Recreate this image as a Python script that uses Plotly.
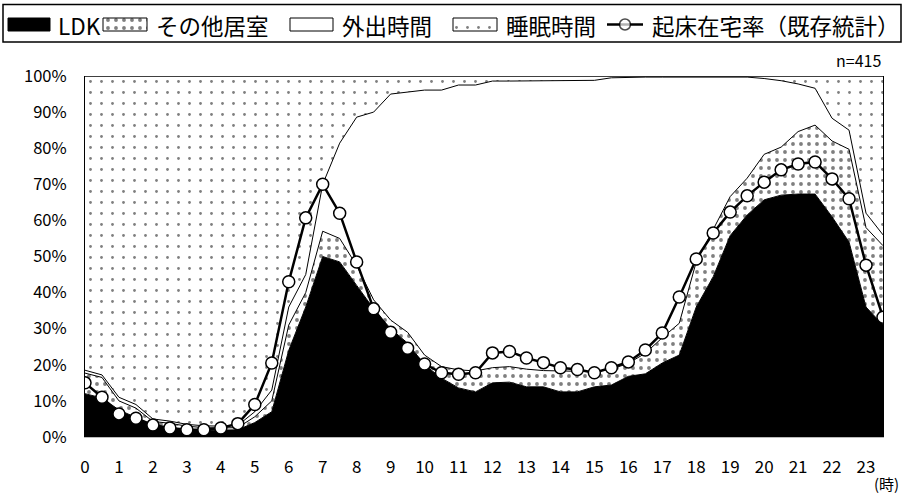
import plotly.graph_objects as go

hours = [0, 0.5, 1, 1.5, 2, 2.5, 3, 3.5, 4, 4.5, 5, 5.5, 6, 6.5, 7, 7.5,
         8, 8.5, 9, 9.5, 10, 10.5, 11, 11.5, 12, 12.5, 13, 13.5, 14, 14.5, 15, 15.5,
         16, 16.5, 17, 17.5, 18, 18.5, 19, 19.5, 20, 20.5, 21, 21.5, 22, 22.5, 23, 23.5]

# shares (%) by half hour
ldk = [12, 10.8, 7.5, 5.3, 3.3, 2.5, 2, 1.8, 1.8, 2, 4, 7, 24, 36, 50, 48.5,
       42, 35.5, 30, 26, 20, 16.3, 13.6, 12.5, 15, 15.2, 13.9, 13.9, 12.5, 12.5, 13.9, 14.4,
       16.8, 17.5, 20.5, 22.7, 36, 44.4, 55.8, 61.5, 65.7, 67, 67.3, 67.3, 61, 54, 36, 31]
other_room = [5.7, 5.7, 2.5, 2.7, 1.0, 1.3, 1.0, 0.8, 0.7, 0.6, 1.6, 3.0, 7.0, 4.0, 7.0, 6.5,
              5.5, 2.5, 2.4, 3.0, 2.7, 3.2, 5.0, 5.8, 4.2, 4.3, 4.9, 4.5, 5.8, 5.6, 4.2, 4.4,
              3.6, 5.7, 7.0, 8.8, 12.5, 13.1, 10.8, 10.2, 12.6, 13.3, 17.3, 19.1, 21.0, 25.7, 22.0, 22.0]
outing = [0.8, 0.7, 1.0, 1.0, 0.7, 0.6, 0.5, 0.5, 0.5, 0.6, 1.4, 3.0, 5.0, 5.0, 13.0, 26.4,
          41.1, 52.0, 62.6, 66.6, 73.4, 76.6, 78.9, 79.2, 79.4, 79.1, 79.8, 80.2, 80.3, 80.5, 80.7, 80.7,
          79.3, 76.5, 72.2, 68.2, 51.2, 42.2, 33.1, 28.0, 21.0, 18.4, 13.2, 10.2, 6.3, 5.3, 4.0, 3.0]
sleep = [81.5, 82.8, 89, 91, 95, 95.6, 96.5, 96.9, 97, 96.8, 93, 87, 64, 55, 30, 18.6,
         11.4, 10, 5, 4.4, 3.9, 3.9, 2.5, 2.5, 1.4, 1.4, 1.4, 1.4, 1.4, 1.4, 1.2, 0.5,
         0.3, 0.3, 0.3, 0.3, 0.3, 0.3, 0.3, 0.3, 0.7, 1.3, 2.2, 3.4, 11.7, 15, 38, 44]
awake_home = [15, 11, 6.4, 5.2, 3.3, 2.5, 2, 2, 2.5, 3.7, 9, 20.5, 43, 60.7, 70, 62,
              48.5, 35.5, 29, 24.6, 20.2, 17.8, 17.4, 17.8, 23.3, 23.7, 21.9, 20.6, 19.2, 18.7, 17.8, 19.2,
              20.8, 24.1, 28.8, 38.8, 49.3, 56.5, 62.3, 66.8, 70.6, 74, 75.6, 76.2, 71.5, 66, 47.6, 33.2]

tick_vals = list(range(24))
series_names = ["LDK", "その他居室", "外出時間", "睡眠時間", "起床在宅率（既存統計）"]

font = "Noto Sans CJK JP"
W, H = 904, 495
dense = dict(shape=".", fgcolor="black", bgcolor="white", size=8, solidity=0.18)
sparse = dict(shape=".", fgcolor="black", bgcolor="white", size=11, solidity=0.05)

fig = go.Figure()

# stacked areas
fig.add_trace(go.Scatter(x=hours, y=ldk, name=series_names[0], stackgroup="one", mode="lines",
                         line=dict(color="black", width=1), fillcolor="black"))
fig.add_trace(go.Scatter(x=hours, y=other_room, name=series_names[1], stackgroup="one", mode="lines",
                         line=dict(color="black", width=1), fillpattern=dense))
fig.add_trace(go.Scatter(x=hours, y=outing, name=series_names[2], stackgroup="one", mode="lines",
                         line=dict(color="black", width=1), fillcolor="white"))
fig.add_trace(go.Scatter(x=hours, y=sleep, name=series_names[3], stackgroup="one", mode="lines",
                         line=dict(color="black", width=1.5), fillpattern=sparse))
fig.add_trace(go.Scatter(
    x=hours, y=awake_home, name=series_names[4], mode="lines+markers",
    line=dict(color="black", width=2.5),
    marker=dict(symbol="circle", size=12, color="white", line=dict(color="black", width=1.5)),
))

# hand-made legend row (pixel units on x2/y2) so the pattern keys show as boxes
def key_box(x0, x1, **fill):
    fig.add_trace(go.Scatter(
        x=[x0, x1, x1, x0, x0], y=[18, 18, 31, 31, 18], xaxis="x2", yaxis="y2",
        mode="lines", fill="toself", line=dict(color="black", width=1),
        hoverinfo="skip", showlegend=False, **fill,
    ))

key_box(8, 50, fillcolor="black")
key_box(103, 147, fillpattern=dense)
key_box(290, 333, fillcolor="white")
key_box(453, 497, fillpattern=sparse)
fig.add_trace(go.Scatter(
    x=[607, 625, 643], y=[24.5, 24.5, 24.5], xaxis="x2", yaxis="y2", mode="lines+markers",
    line=dict(color="black", width=2.5),
    marker=dict(size=[0, 11, 0], color="white", line=dict(color="black", width=[0, 1.5, 0])),
    hoverinfo="skip", showlegend=False,
))
for name, x0 in zip(series_names, [56, 154, 340, 504, 650]):
    fig.add_annotation(text=name, x=x0, y=24.5, xref="x2", yref="y2",
                       xanchor="left", yanchor="middle", showarrow=False,
                       font=dict(size=22.5, color="black", family=font))
fig.add_shape(type="rect", xref="x2", yref="y2", x0=3, x1=901, y0=4.5, y1=42,
              line=dict(color="black", width=1.5), fillcolor="rgba(0,0,0,0)", layer="below")

fig.add_annotation(text="n=415", x=1, y=1.005, xref="x domain", yref="y domain",
                   xanchor="right", yanchor="bottom", showarrow=False,
                   font=dict(size=16, color="black", family=font))
fig.add_annotation(text="(時)", x=1.004, y=-0.128, xref="x domain", yref="y domain",
                   xanchor="center", yanchor="middle", showarrow=False,
                   font=dict(size=15, color="black", family=font))

fig.update_layout(
    xaxis=dict(
        domain=[85 / W, 883 / W], range=[0, 23.5],
        tickvals=tick_vals, ticktext=[str(v) for v in tick_vals],
        showgrid=False, zeroline=False, showline=True, linecolor="#bbbbbb", linewidth=1,
        ticks="", ticklabelstandoff=15,
        tickfont=dict(size=17, color="black", family=font),
    ),
    yaxis=dict(
        domain=[58 / H, 419 / H], range=[0, 100], dtick=10, ticksuffix="%",
        showgrid=False, zeroline=False, showline=True, linecolor="black", linewidth=1,
        mirror=True, ticks="", ticklabelstandoff=14,
        tickfont=dict(size=16.5, color="black", family=font),
    ),
    xaxis2=dict(domain=[0, 1], range=[0, W], visible=False, fixedrange=True),
    yaxis2=dict(domain=[1 - 46 / H, 1], range=[46, 0], visible=False, fixedrange=True),
    width=W, height=H,
    paper_bgcolor="white", plot_bgcolor="white",
    margin=dict(l=0, r=0, t=0, b=0, autoexpand=False),
    font=dict(family=font, color="black"),
    showlegend=False,
)

fig.write_html("out.html", config={"displayModeBar": False},
               post_script="document.body.style.margin='0';")
